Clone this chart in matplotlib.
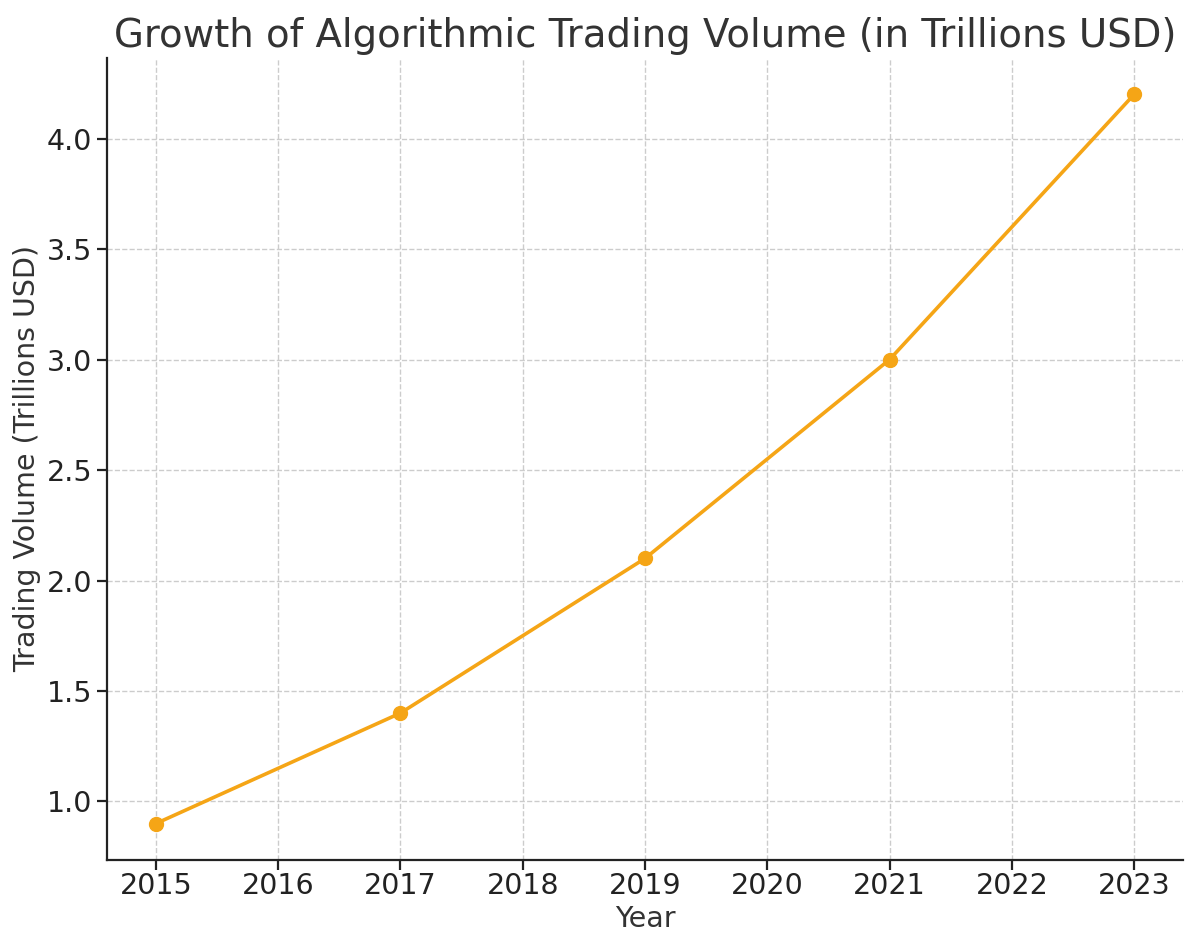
import matplotlib
matplotlib.use("Agg")
import matplotlib.pyplot as plt

years = [2015, 2017, 2019, 2021, 2023]
volume = [0.9, 1.4, 2.1, 3.0, 4.2]
xticks = list(range(2015, 2024))

fig = plt.figure(figsize=(11.88, 9.32), dpi=100)
ax = fig.add_axes([107/1188, 1-860/932, (1183-107)/1188, (860-58)/932])

ax.plot(years, volume, color='#F5A516', linewidth=2.6, marker='o', markersize=10, zorder=3)
ax.set_xticks(xticks)
ax.set_yticks([1.0, 1.5, 2.0, 2.5, 3.0, 3.5, 4.0])
ax.grid(True, linestyle='--', color='#CCCCCC', linewidth=1.0)
ax.set_axisbelow(True)
for s in ['top', 'right']:
    ax.spines[s].set_visible(False)
for s in ['left', 'bottom']:
    ax.spines[s].set_linewidth(1.6)
    ax.spines[s].set_color('#222222')
ax.tick_params(labelsize=20.5, colors='#222222', width=1.6, length=7)
ax.tick_params(axis='x', pad=2)
ax.set_title('Growth of Algorithmic Trading Volume (in Trillions USD)', fontsize=27.8, color='#333333', pad=8)
ax.set_xlabel('Year', fontsize=20.5, color='#333333', labelpad=3)
ax.set_ylabel('Trading Volume (Trillions USD)', fontsize=20.5, color='#333333', labelpad=4)

fig.savefig('out.png', dpi=100)
